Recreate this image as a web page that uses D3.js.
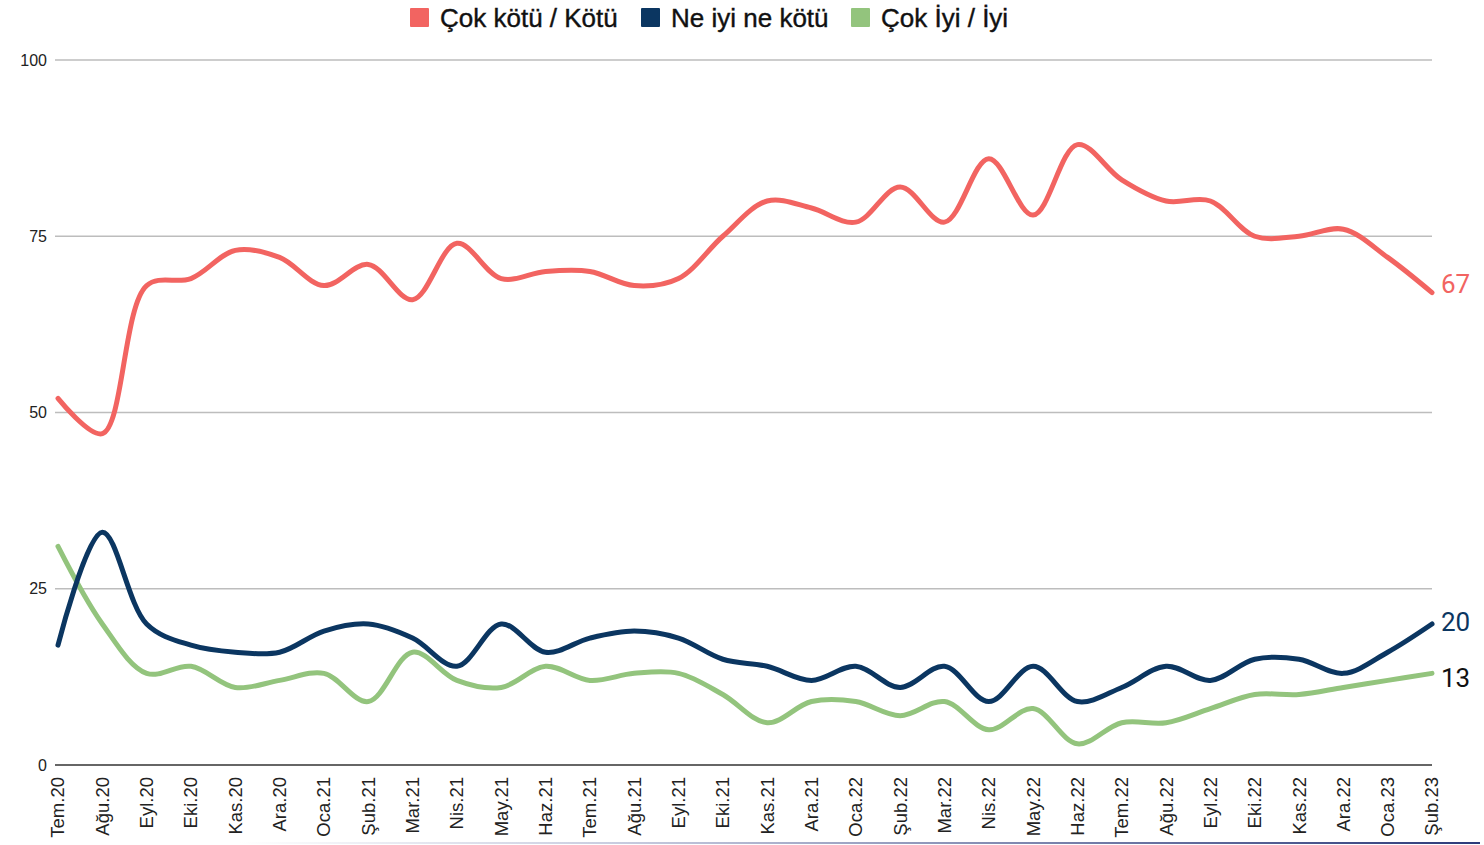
<!DOCTYPE html>
<html><head><meta charset="utf-8">
<script src="https://cdn.jsdelivr.net/npm/d3@7"></script>
<style>body{margin:0;background:#fff}svg{display:block}</style>
</head><body>
<script>
const months = ["Tem.20","Ağu.20","Eyl.20","Eki.20","Kas.20","Ara.20","Oca.21","Şub.21","Mar.21","Nis.21","May.21","Haz.21","Tem.21","Ağu.21","Eyl.21","Eki.21","Kas.21","Ara.21","Oca.22","Şub.22","Mar.22","Nis.22","May.22","Haz.22","Tem.22","Ağu.22","Eyl.22","Eki.22","Kas.22","Ara.22","Oca.23","Şub.23"];
const kotu = [52,47,68,69,73,72,68,71,66,74,69,70,70,68,69,75,80,79,77,82,77,86,78,88,83,80,80,75,75,76,72,67];
const orta = [17,33,20,17,16,16,19,20,18,14,20,16,18,19,18,15,14,12,14,11,14,9,14,9,11,14,12,15,15,13,16,20];
const iyi  = [31,20,13,14,11,12,13,9,16,12,11,14,12,13,13,10,6,9,9,7,9,5,8,3,6,6,8,10,10,11,12,13];
const yTicks = [0,25,50,75,100];
const seriesNames = ["Çok kötü / Kötü","Ne iyi ne kötü","Çok İyi / İyi"];
const colors = ["#f26461","#0b3661","#93c47d"];

const W = 1484, H = 845;
const svg = d3.select("body").append("svg").attr("width", W).attr("height", H);
const x = d3.scalePoint().domain(months).range([58, 1432]);
const y = d3.scaleLinear().domain([0,100]).range([765, 60]);

// gridlines
svg.append("g").selectAll("line").data(yTicks.filter(d=>d>0)).join("line")
  .attr("x1", 55).attr("x2", 1432).attr("y1", d=>y(d)).attr("y2", d=>y(d))
  .attr("stroke", "#bdbdbd").attr("stroke-width", 1.5);
// baseline
svg.append("line").attr("x1", 55).attr("x2", 1432).attr("y1", y(0)).attr("y2", y(0))
  .attr("stroke", "#333").attr("stroke-width", 1.5);

// y labels
svg.append("g").selectAll("text").data(yTicks).join("text")
  .attr("x", 47).attr("y", d=>y(d)).attr("dy", "0.35em").attr("text-anchor","end")
  .attr("font-family","Liberation Sans, Arial, sans-serif").attr("font-size",16).attr("fill","#222")
  .text(d=>d);

// x labels
svg.append("g").selectAll("text").data(months).join("text")
  .attr("transform", d=>`translate(${x(d)},777) rotate(-90)`)
  .attr("dy","0.35em").attr("text-anchor","end")
  .attr("font-family","Liberation Sans, Arial, sans-serif").attr("font-size",18.5).attr("fill","#222")
  .text(d=>d);

// bottom faint line
const grad = svg.append("defs").append("linearGradient").attr("id","bl");
grad.append("stop").attr("offset","0").attr("stop-color","#ffffff");
grad.append("stop").attr("offset","0.3").attr("stop-color","#c9cde0");
grad.append("stop").attr("offset","1").attr("stop-color","#2c3a7a");
svg.append("rect").attr("x",240).attr("y",842).attr("width",1240).attr("height",2).attr("fill","url(#bl)");

const line = d3.line().x((d,i)=>x(months[i])).y(d=>y(d)).curve(d3.curveCatmullRom.alpha(0.5));
const data = [kotu, orta, iyi];
[2,1,0].forEach(k=>{
  svg.append("path").attr("d", line(data[k])).attr("fill","none")
    .attr("stroke", colors[k]).attr("stroke-width", 5).attr("stroke-linejoin","round").attr("stroke-linecap","round");
});

// end labels
const endColors = ["#f26461","#0b3661","#111"];
const endShift = [-9, -2, 5];
data.forEach((s,k)=>{
  const v = s[s.length-1];
  svg.append("text").attr("x", 1441).attr("y", y(v) + endShift[k]).attr("dy","0.35em")
    .attr("font-family","Roboto, sans-serif").attr("font-size",26)
    .attr("fill", endColors[k]).attr("stroke","#fff").attr("stroke-width",3).attr("paint-order","stroke")
    .text(v);
});

// legend
const leg = svg.append("g").attr("font-family","Liberation Sans, Arial, sans-serif").attr("font-size",26);
const legX = [410, 641, 851];
seriesNames.forEach((n,k)=>{
  leg.append("rect").attr("x",legX[k]).attr("y",8).attr("width",19).attr("height",19).attr("rx",1).attr("fill",colors[k]);
  leg.append("text").attr("x",legX[k]+30).attr("y",18).attr("dy","0.36em").attr("fill","#111")
    .attr("stroke","#111").attr("stroke-width",0.4).text(n);
});
</script>
</body></html>
